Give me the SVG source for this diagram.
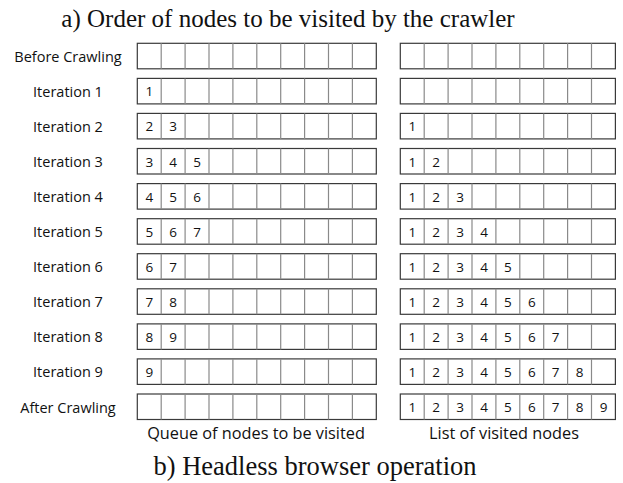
<svg xmlns="http://www.w3.org/2000/svg" xmlns:xlink="http://www.w3.org/1999/xlink" width="623" height="483" viewBox="0 0 623 483">
<style>
.title{font-family:"Liberation Serif",serif;fill:#111;text-anchor:middle}
.lbl{font-family:"Open Sans","Liberation Sans",sans-serif;font-size:14.5px;fill:#111;text-anchor:middle}
.cap{font-family:"Open Sans","Liberation Sans",sans-serif;font-size:16.3px;fill:#111;text-anchor:middle}
.num{font-family:"Open Sans","Liberation Sans",sans-serif;font-size:13.5px;fill:#111;text-anchor:middle}
.outer{fill:#fff;stroke:#3a3a3a;stroke-width:1.2}
.inner{fill:none;stroke:#8a8a8a;stroke-width:1.2}
</style>
<defs>
<g id="qgrid">
<rect class="outer" x="137.3" y="0" width="239" height="25.5"/>
<path class="inner" d="M161.2 0V25.5M185.1 0V25.5M209 0V25.5M232.9 0V25.5M256.8 0V25.5M280.7 0V25.5M304.6 0V25.5M328.5 0V25.5M352.4 0V25.5"/>
</g>
<g id="vgrid">
<rect class="outer" x="400.3" y="0" width="215.1" height="25.5"/>
<path class="inner" d="M424.2 0V25.5M448.1 0V25.5M472 0V25.5M495.9 0V25.5M519.8 0V25.5M543.7 0V25.5M567.6 0V25.5M591.5 0V25.5"/>
</g>
</defs>
<rect width="623" height="483" fill="#fff"/>
<text class="title" x="288" y="27" font-size="25" text-anchor="middle">a) Order of nodes to be visited by the crawler</text>

<g id="row-before" transform="translate(0,43.3)">
<text class="lbl" x="68" y="18.5">Before Crawling</text>
<use xlink:href="#qgrid"/><use xlink:href="#vgrid"/>
</g>
<g id="row-iter1" transform="translate(0,78.4)">
<text class="lbl" x="68" y="18.5">Iteration 1</text>
<use xlink:href="#qgrid"/><use xlink:href="#vgrid"/>
<text class="num" x="149.3" y="18">1</text>
</g>
<g id="row-iter2" transform="translate(0,113.4)">
<text class="lbl" x="68" y="18.5">Iteration 2</text>
<use xlink:href="#qgrid"/><use xlink:href="#vgrid"/>
<text class="num" x="149.3" y="18">2</text><text class="num" x="173.2" y="18">3</text>
<text class="num" x="412.3" y="18">1</text>
</g>
<g id="row-iter3" transform="translate(0,148.5)">
<text class="lbl" x="68" y="18.5">Iteration 3</text>
<use xlink:href="#qgrid"/><use xlink:href="#vgrid"/>
<text class="num" x="149.3" y="18">3</text><text class="num" x="173.2" y="18">4</text><text class="num" x="197.1" y="18">5</text>
<text class="num" x="412.3" y="18">1</text><text class="num" x="436.2" y="18">2</text>
</g>
<g id="row-iter4" transform="translate(0,183.6)">
<text class="lbl" x="68" y="18.5">Iteration 4</text>
<use xlink:href="#qgrid"/><use xlink:href="#vgrid"/>
<text class="num" x="149.3" y="18">4</text><text class="num" x="173.2" y="18">5</text><text class="num" x="197.1" y="18">6</text>
<text class="num" x="412.3" y="18">1</text><text class="num" x="436.2" y="18">2</text><text class="num" x="460.1" y="18">3</text>
</g>
<g id="row-iter5" transform="translate(0,218.7)">
<text class="lbl" x="68" y="18.5">Iteration 5</text>
<use xlink:href="#qgrid"/><use xlink:href="#vgrid"/>
<text class="num" x="149.3" y="18">5</text><text class="num" x="173.2" y="18">6</text><text class="num" x="197.1" y="18">7</text>
<text class="num" x="412.3" y="18">1</text><text class="num" x="436.2" y="18">2</text><text class="num" x="460.1" y="18">3</text><text class="num" x="484" y="18">4</text>
</g>
<g id="row-iter6" transform="translate(0,253.7)">
<text class="lbl" x="68" y="18.5">Iteration 6</text>
<use xlink:href="#qgrid"/><use xlink:href="#vgrid"/>
<text class="num" x="149.3" y="18">6</text><text class="num" x="173.2" y="18">7</text>
<text class="num" x="412.3" y="18">1</text><text class="num" x="436.2" y="18">2</text><text class="num" x="460.1" y="18">3</text><text class="num" x="484" y="18">4</text><text class="num" x="507.9" y="18">5</text>
</g>
<g id="row-iter7" transform="translate(0,288.8)">
<text class="lbl" x="68" y="18.5">Iteration 7</text>
<use xlink:href="#qgrid"/><use xlink:href="#vgrid"/>
<text class="num" x="149.3" y="18">7</text><text class="num" x="173.2" y="18">8</text>
<text class="num" x="412.3" y="18">1</text><text class="num" x="436.2" y="18">2</text><text class="num" x="460.1" y="18">3</text><text class="num" x="484" y="18">4</text><text class="num" x="507.9" y="18">5</text><text class="num" x="531.8" y="18">6</text>
</g>
<g id="row-iter8" transform="translate(0,323.9)">
<text class="lbl" x="68" y="18.5">Iteration 8</text>
<use xlink:href="#qgrid"/><use xlink:href="#vgrid"/>
<text class="num" x="149.3" y="18">8</text><text class="num" x="173.2" y="18">9</text>
<text class="num" x="412.3" y="18">1</text><text class="num" x="436.2" y="18">2</text><text class="num" x="460.1" y="18">3</text><text class="num" x="484" y="18">4</text><text class="num" x="507.9" y="18">5</text><text class="num" x="531.8" y="18">6</text><text class="num" x="555.7" y="18">7</text>
</g>
<g id="row-iter9" transform="translate(0,358.9)">
<text class="lbl" x="68" y="18.5">Iteration 9</text>
<use xlink:href="#qgrid"/><use xlink:href="#vgrid"/>
<text class="num" x="149.3" y="18">9</text>
<text class="num" x="412.3" y="18">1</text><text class="num" x="436.2" y="18">2</text><text class="num" x="460.1" y="18">3</text><text class="num" x="484" y="18">4</text><text class="num" x="507.9" y="18">5</text><text class="num" x="531.8" y="18">6</text><text class="num" x="555.7" y="18">7</text><text class="num" x="579.6" y="18">8</text>
</g>
<g id="row-after" transform="translate(0,394)">
<text class="lbl" x="68" y="18.5">After Crawling</text>
<use xlink:href="#qgrid"/><use xlink:href="#vgrid"/>
<text class="num" x="412.3" y="18">1</text><text class="num" x="436.2" y="18">2</text><text class="num" x="460.1" y="18">3</text><text class="num" x="484" y="18">4</text><text class="num" x="507.9" y="18">5</text><text class="num" x="531.8" y="18">6</text><text class="num" x="555.7" y="18">7</text><text class="num" x="579.6" y="18">8</text><text class="num" x="603.5" y="18">9</text>
</g>
<g id="connectors"/>
<text class="cap" x="256" y="439">Queue of nodes to be visited</text>
<text class="cap" x="504" y="439">List of visited nodes</text>
<text class="title" x="315" y="475" font-size="26.5">b) Headless browser operation</text>
</svg>
